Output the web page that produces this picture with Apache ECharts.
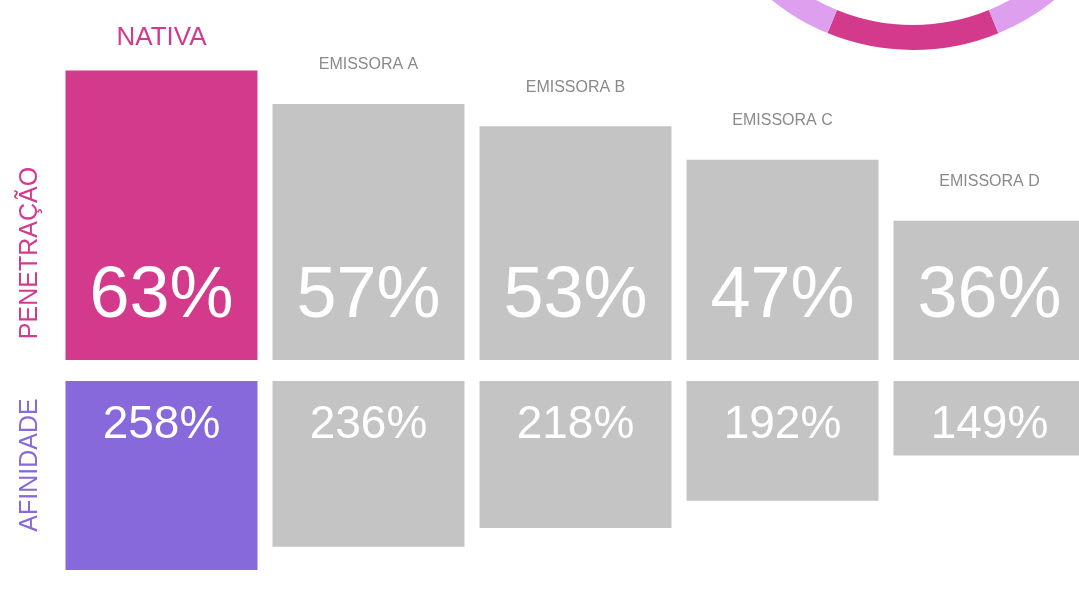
<!DOCTYPE html>
<html>
<head>
<meta charset="utf-8">
<script src="https://cdn.jsdelivr.net/npm/echarts@6/dist/echarts.min.js"></script>
<style>
html,body{margin:0;padding:0;background:#fff;}
#chart{width:1079px;height:592px;}
</style>
</head>
<body>
<div id="chart"></div>
<script>
const categories = ['NATIVA', 'EMISSORA A', 'EMISSORA B', 'EMISSORA C', 'EMISSORA D'];
const penetracao = [63, 57, 53, 47, 36];
const afinidade = [258, 236, 218, 192, 149];
const donutNames = ['NATIVA', 'OUTRAS'];
const donutValues = [12.4, 87.6];

const PINK = '#d43a8c';
const PURPLE = '#8769dc';
const GRAY = '#c4c4c4';
const LIGHT = '#dea0ee';

const chart = echarts.init(document.getElementById('chart'), null, {renderer: 'canvas'});

const topBars = penetracao.map((v, i) => ({
  value: v,
  itemStyle: {color: i === 0 ? PINK : GRAY},
  label: i === 0
    ? {color: PINK, fontSize: 26, distance: 20}
    : {color: '#8a8a8a', fontSize: 16, distance: 31}
}));
const botBars = afinidade.map((v, i) => ({
  value: v,
  itemStyle: {color: i === 0 ? PURPLE : GRAY}
}));

chart.setOption({
  animation: false,
  backgroundColor: '#fff',
  grid: [
    {left: 58, width: 1035, top: 40, height: 320, outerBoundsMode: 'none', containLabel: false},
    {left: 58, width: 1035, top: 381, height: 211, outerBoundsMode: 'none', containLabel: false}
  ],
  xAxis: [
    {type: 'category', gridIndex: 0, data: categories, show: false},
    {type: 'category', gridIndex: 1, data: categories, show: false}
  ],
  yAxis: [
    {type: 'value', gridIndex: 0, min: 11, max: 68.5, show: false},
    {type: 'value', gridIndex: 1, min: 78, max: 279, inverse: true, show: false}
  ],
  series: [
    {
      type: 'bar', xAxisIndex: 0, yAxisIndex: 0, barWidth: 192,
      data: topBars,
      label: {show: true, position: 'top', formatter: p => p.name, fontFamily: 'Liberation Sans, Arial, sans-serif'}
    },
    {
      type: 'bar', xAxisIndex: 0, yAxisIndex: 0, barWidth: 192, barGap: '-100%',
      data: penetracao,
      itemStyle: {color: 'rgba(0,0,0,0)'},
      label: {show: true, position: 'insideBottom', distance: 27, formatter: '{c}%',
        color: '#fff', fontSize: 72, fontFamily: 'Liberation Sans, Arial, sans-serif'},
      z: 3
    },
    {
      type: 'bar', xAxisIndex: 1, yAxisIndex: 1, barWidth: 192,
      data: botBars,
      label: {show: true, position: 'insideTop', distance: 21, formatter: '{c}%',
        color: '#fff', fontSize: 46, fontFamily: 'Liberation Sans, Arial, sans-serif'}
    },
    {
      type: 'pie', center: [913, -175], radius: [200, 225], startAngle: 292.3,
      clockwise: true, label: {show: false}, labelLine: {show: false}, silent: true,
      data: donutNames.map((n, i) => ({name: n, value: donutValues[i], itemStyle: {color: i === 0 ? PINK : LIGHT}}))
    }
  ],
  graphic: [
    {type: 'text', x: 30, y: 253, rotation: Math.PI / 2,
      style: {text: 'PENETRAÇÃO', fill: PINK, font: '25px "Liberation Sans", Arial, sans-serif', align: 'center', verticalAlign: 'middle'}},
    {type: 'text', x: 30, y: 465, rotation: Math.PI / 2,
      style: {text: 'AFINIDADE', fill: PURPLE, font: '25px "Liberation Sans", Arial, sans-serif', align: 'center', verticalAlign: 'middle'}}
  ]
});
</script>
</body>
</html>
